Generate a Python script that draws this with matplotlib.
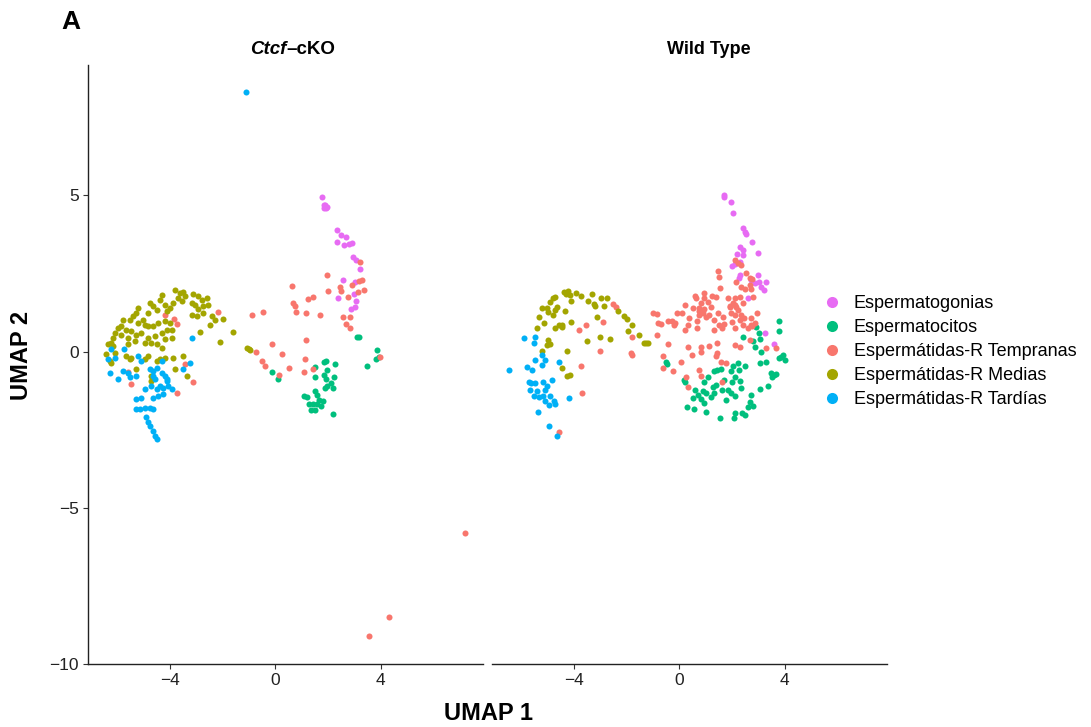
import matplotlib.pyplot as plt
from matplotlib.lines import Line2D

# fuente parecida a Helvetica
plt.rcParams["font.family"] = ["Liberation Sans", "DejaVu Sans"]

# tipos celulares y colores (paleta por defecto de ggplot)
tipos = ["Espermatogonias", "Espermatocitos", "Espermátidas-R Tempranas",
         "Espermátidas-R Medias", "Espermátidas-R Tardías"]
colores = ["#E76BF3", "#00BF7D", "#F8766D", "#A3A500", "#00B0F6"]
paneles = ["Ctcf–cKO", "Wild Type"]

# ---- Ctcf-cKO: coordenadas UMAP (UMAP 1, UMAP 2) ----
ko_gonias = [(1.76, 4.95), (1.84, 4.70), (1.90, 4.65), (1.93, 4.60), (1.84, 4.58), (1.97, 4.62),
             (1.88, 4.68), (2.35, 3.88), (2.48, 3.74), (2.67, 3.67), (2.35, 3.51), (2.61, 3.42),
             (2.80, 3.45), (2.90, 3.46), (2.95, 3.02), (3.05, 2.94), (3.22, 2.64), (2.57, 2.30),
             (3.02, 2.22), (2.99, 1.83), (2.39, 1.72), (3.05, 1.61), (3.02, 1.42), (2.86, 1.37)]
ko_citos = [(3.11, 0.46), (3.18, 0.47), (3.85, 0.04), (3.94, -0.18), (3.81, -0.23), (3.49, -0.47),
            (-0.12, -0.66), (0.10, -0.89), (1.52, -0.50), (1.84, -0.33), (1.93, -0.31), (2.25, -0.41),
            (1.97, -0.60), (1.84, -0.75), (1.49, -0.83), (2.22, -0.81), (1.91, -0.89), (2.10, -1.02),
            (1.97, -1.10), (2.18, -1.17), (1.88, -1.17), (1.52, -1.26), (1.59, -1.39), (1.08, -1.42),
            (1.21, -1.44), (1.65, -1.56), (1.80, -1.58), (1.59, -1.69), (1.27, -1.69), (1.75, -1.74),
            (1.37, -1.88), (1.52, -1.87), (2.20, -2.01), (1.42, -1.69)]
ko_tempranas = [(3.22, 2.86), (1.97, 2.46), (3.30, 2.30), (3.18, 2.25), (2.92, 2.12), (0.64, 2.09),
                (2.44, 2.06), (2.49, 1.93), (2.01, 1.95), (3.37, 1.98), (3.14, 1.91), (2.76, 1.74),
                (1.42, 1.74), (1.23, 1.69), (0.67, 1.56), (0.74, 1.45), (0.79, 1.26), (1.17, 1.24),
                (1.69, 1.17), (-0.89, 1.17), (-0.48, 1.27), (2.57, 1.10), (2.83, 1.10), (2.69, 0.87),
                (2.85, 0.74), (1.18, 0.37), (-0.12, 0.25), (-0.72, -0.02), (0.26, -0.09), (1.14, -0.25),
                (-0.51, -0.31), (-0.40, -0.47), (0.53, -0.54), (1.08, -0.65), (1.42, -0.57), (0.13, -0.75),
                (3.96, -0.18), (-4.19, 1.18), (-3.84, 1.04), (-3.75, 0.88), (-2.16, 1.27), (-5.49, -1.05),
                (-5.59, -0.65), (-3.75, -1.34), (-3.11, -0.97), (-3.43, -0.39),
                (7.20, -5.81), (4.30, -8.50), (3.54, -9.11)]
ko_medias = [(-3.81, 1.98), (-3.62, 1.87), (-3.49, 1.90), (-3.43, 1.77), (-3.69, 1.71), (-3.88, 1.56),
             (-3.56, 1.61), (-3.11, 1.85), (-2.92, 1.77), (-2.80, 1.66), (-2.61, 1.71), (-2.54, 1.50),
             (-2.73, 1.45), (-2.92, 1.36), (-3.05, 1.50), (-4.32, 1.82), (-4.38, 1.66), (-4.76, 1.56),
             (-4.64, 1.45), (-4.51, 1.34), (-4.19, 1.50), (-4.13, 1.29), (-4.00, 1.40), (-4.83, 1.24),
             (-5.21, 1.40), (-5.27, 1.24), (-5.40, 1.13), (-5.53, 1.02), (-5.78, 1.02), (-5.84, 0.81),
             (-5.65, 0.70), (-5.97, 0.76), (-6.10, 0.60), (-5.46, 0.65), (-5.21, 0.92), (-5.02, 1.02),
             (-4.96, 0.86), (-4.83, 0.81), (-4.64, 0.81), (-4.45, 0.92), (-4.19, 0.97), (-4.13, 0.70),
             (-4.32, 0.60), (-4.57, 0.49), (-4.83, 0.44), (-5.08, 0.60), (-5.27, 0.54), (-5.59, 0.44),
             (-5.84, 0.54), (-6.16, 0.44), (-6.23, 0.28), (-6.35, 0.23), (-6.16, 0.17), (-5.59, 0.23),
             (-5.34, 0.33), (-4.96, 0.28), (-4.70, 0.28), (-4.51, 0.23), (-4.32, 0.12), (-4.19, 0.39),
             (-3.94, 0.44), (-4.00, 0.92), (-3.94, 0.70), (-3.18, 1.18), (-2.99, 1.13), (-2.73, 1.24),
             (-2.42, 1.13), (-2.29, 1.02), (-1.97, 1.04), (-2.48, 0.86), (-2.86, 0.62), (-2.10, 0.30),
             (-1.62, 0.63), (-3.18, 1.56), (-5.65, -0.15), (-5.53, -0.25), (-5.46, -0.20), (-6.29, -0.31),
             (-6.23, -0.36), (-5.27, -0.57), (-4.96, -0.25), (-4.83, -0.15), (-4.51, -0.31), (-4.38, -0.25),
             (-4.19, -0.20), (-3.88, -0.20), (-3.81, -0.57), (-3.49, -0.15), (-3.37, -0.78), (-4.70, -0.94),
             (-4.70, -0.78), (-6.42, -0.09), (-6.10, -0.04), (-1.01, 0.09), (-0.95, 0.05), (-1.08, 0.12)]
ko_tardias = [(-3.18, 0.44), (-5.74, 0.07), (-6.23, 0.07), (-6.35, -0.23), (-6.10, -0.20), (-6.29, -0.68),
              (-5.97, -0.89), (-5.78, -0.63), (-5.59, -0.68), (-5.53, -0.82), (-5.27, -0.78), (-5.21, -0.15),
              (-5.08, -0.31), (-4.76, -0.57), (-4.64, -0.63), (-4.51, -0.52), (-4.64, -0.78), (-4.57, -0.89),
              (-4.32, -0.68), (-4.19, -0.78), (-4.13, -0.89), (-4.26, -1.16), (-4.07, -1.10), (-3.94, -1.21),
              (-4.38, -1.10), (-4.51, -1.21), (-4.70, -1.10), (-4.96, -1.21), (-4.45, -1.42), (-4.64, -1.48),
              (-4.26, -1.37), (-5.08, -1.50), (-5.27, -1.53), (-4.96, -1.80), (-4.76, -1.80), (-4.64, -1.85),
              (-5.14, -1.85), (-5.27, -1.85), (-4.89, -2.11), (-4.83, -2.27), (-4.76, -2.38), (-4.64, -2.54),
              (-4.57, -2.70), (-4.51, -2.79), (-3.24, -0.36), (-3.49, -0.57), (-4.32, -0.31), (-4.13, -0.94),
              (-1.10, 8.31)]

# ---- Wild Type ----
wt_gonias = [(1.68, 5.02), (1.69, 4.94), (1.97, 4.78), (2.05, 4.45), (2.41, 3.95), (2.48, 3.82),
             (2.54, 3.76), (2.74, 3.51), (2.32, 3.37), (2.41, 3.26), (2.20, 3.13), (2.41, 3.09),
             (2.98, 3.15), (2.32, 2.89), (1.99, 2.76), (2.10, 2.81), (2.31, 2.46), (2.26, 2.35),
             (2.98, 2.46), (2.73, 2.30), (3.01, 2.25), (3.30, 2.22), (3.11, 2.09), (3.21, 1.98),
             (2.60, 1.74), (2.86, 2.19), (3.24, 0.60), (3.59, 0.25)]
wt_citos = [(2.92, 0.79), (3.77, 0.99), (3.77, 0.67), (2.41, 0.49), (3.01, 0.60), (3.05, 0.40),
            (2.79, 0.36), (2.86, 0.17), (3.11, 0.01), (3.94, -0.10), (3.87, -0.17), (4.00, -0.26),
            (3.77, -0.20), (3.05, -0.36), (3.30, -0.33), (3.49, -0.66), (3.59, -0.73), (3.68, -0.70),
            (3.53, -0.79), (3.37, -1.09), (3.05, -1.19), (-0.51, -0.31), (-0.47, -0.38), (2.22, -0.36),
            (2.48, -0.44), (2.03, -0.44), (2.25, -0.58), (1.97, -0.60), (2.10, -0.79), (2.32, -0.92),
            (2.00, -0.95), (1.71, -0.90), (1.33, -0.60), (1.44, -0.58), (1.59, -0.55), (1.10, -0.81),
            (0.95, -0.95), (1.40, -1.06), (1.27, -1.13), (0.17, -0.89), (0.22, -0.97), (0.60, -1.21),
            (0.89, -1.24), (0.70, -1.37), (0.51, -1.48), (0.83, -1.51), (1.21, -1.43), (1.02, -1.32),
            (1.33, -1.32), (1.61, -1.21), (1.84, -1.21), (1.97, -1.32), (1.78, -1.53), (2.10, -1.40),
            (2.35, -1.16), (2.71, -1.37), (2.67, -1.59), (2.79, -1.73), (2.60, -1.77), (2.10, -1.96),
            (2.37, -1.96), (2.48, -2.01), (2.07, -2.12), (0.28, -1.75), (0.55, -1.83), (0.95, -1.64),
            (1.02, -1.91), (1.56, -2.12)]
wt_tempranas = [(-2.51, 1.52), (-2.40, 1.45), (-2.88, 0.96), (-3.53, 0.86), (-3.82, 0.70), (-1.78, 0.47),
                (-3.01, 0.04), (-1.84, -0.04), (-1.80, -0.09), (-3.72, -0.44), (-3.68, -1.30), (-4.55, -2.56),
                (2.13, 2.94), (2.22, 2.85), (2.35, 2.78), (1.46, 2.60), (1.50, 2.41), (2.54, 2.53),
                (2.67, 2.35), (2.76, 2.33), (2.16, 2.23), (2.35, 2.09), (2.48, 2.00), (2.67, 2.14),
                (2.73, 2.00), (1.56, 2.03), (0.93, 1.90), (0.60, 1.80), (0.64, 1.71), (1.25, 1.80),
                (1.40, 1.77), (0.95, 1.71), (1.08, 1.61), (0.83, 1.55), (0.22, 1.50), (0.51, 1.42),
                (0.76, 1.42), (1.21, 1.45), (1.84, 1.71), (2.10, 1.71), (2.29, 1.77), (2.03, 1.58),
                (1.94, 1.47), (2.16, 1.45), (2.79, 1.75), (2.41, 1.55),
                (-1.01, 1.26), (-0.85, 1.21), (-0.80, 0.92), (-0.70, 0.89), (-0.44, 1.00), (-0.29, 1.00),
                (-0.16, 0.94), (-0.21, 0.86), (-0.09, 1.26), (0.09, 1.26), (0.38, 1.08), (0.32, 0.86),
                (0.22, 0.70), (0.67, 0.76), (0.67, 1.00), (0.76, 1.18), (0.89, 1.24), (1.02, 1.13),
                (1.14, 1.18), (0.76, 1.32), (0.95, 1.36), (1.33, 1.02), (1.46, 1.23), (1.65, 1.11),
                (1.52, 0.86), (1.71, 0.89), (1.61, 0.76), (1.33, 0.70), (1.91, 1.45), (2.10, 1.50),
                (1.97, 1.23), (2.10, 1.18), (2.22, 1.34), (2.35, 1.18), (2.29, 1.02), (2.00, 0.97),
                (2.45, 1.08), (2.41, 0.86), (2.10, 0.76), (2.60, 0.76), (2.73, 1.08), (2.95, 1.23),
                (2.86, 0.92), (2.77, 0.83), (-0.85, 0.54), (-0.44, 0.26), (0.32, 0.17), (0.47, -0.10),
                (0.83, 0.15), (0.83, 0.01), (1.44, 0.28), (1.42, -0.04), (1.40, -0.12), (-0.63, -0.12),
                (0.06, -0.33), (-0.25, -0.61), (-0.63, -0.52), (0.76, -0.57), (0.83, -0.77), (0.32, -1.13),
                (0.25, -0.81), (1.59, -0.31), (1.78, -0.34), (1.61, -0.95), (1.14, 0.19), (2.29, 0.17),
                (2.10, 0.22), (2.67, 0.38), (2.73, 0.86), (3.28, 0.12), (3.68, 0.12)]
wt_medias = [(-4.38, 1.93), (-4.23, 1.96), (-4.32, 1.85), (-3.94, 1.90), (-4.15, 1.82), (-3.72, 1.80),
             (-3.33, 1.85), (-4.70, 1.77), (-4.79, 1.71), (-4.89, 1.61), (-4.13, 1.63), (-3.47, 1.64),
             (-3.24, 1.53), (-3.20, 1.47), (-2.98, 1.71), (-2.73, 1.74), (-2.86, 1.48), (-5.23, 1.42),
             (-5.02, 1.40), (-4.98, 1.27), (-4.64, 1.45), (-4.70, 1.34), (-4.34, 1.31), (-4.79, 1.17),
             (-5.33, 1.11), (-5.14, 0.92), (-5.42, 0.78), (-4.70, 0.76), (-4.57, 0.86), (-4.44, 0.86),
             (-4.44, 0.79), (-4.13, 0.96), (-3.11, 1.11), (-2.31, 1.31), (-2.10, 1.15), (-1.97, 1.04),
             (-1.80, 0.86), (-1.94, 0.68), (-1.52, 0.54), (-4.98, 0.39), (-4.89, 0.26), (-5.02, 0.23),
             (-5.21, 0.04), (-4.28, 0.04), (-3.52, 0.36), (-3.01, 0.49), (-2.63, 0.43), (-4.44, -0.52),
             (-4.28, -0.76), (-4.15, -0.73), (-1.27, 0.30), (-1.18, 0.28), (-1.33, 0.30)]
wt_tardias = [(-5.46, 0.49), (-5.88, 0.46), (-5.52, 0.28), (-5.23, -0.09), (-5.46, -0.27), (-5.08, -0.27),
              (-4.57, -0.33), (-5.78, -0.47), (-5.59, -0.59), (-5.23, -0.43), (-6.45, -0.59), (-5.71, -0.97),
              (-5.63, -0.98), (-5.46, -0.98), (-5.17, -0.97), (-4.83, -0.89), (-5.02, -1.10), (-5.65, -1.21),
              (-5.42, -1.26), (-5.08, -1.21), (-5.52, -1.42), (-5.33, -1.44), (-5.17, -1.42), (-4.89, -1.40),
              (-5.08, -1.58), (-4.95, -1.69), (-4.74, -1.58), (-4.70, -1.66), (-4.19, -1.48), (-5.36, -1.93),
              (-4.95, -2.38), (-4.64, -2.67)]

ko = [ko_gonias, ko_citos, ko_tempranas, ko_medias, ko_tardias]
wt = [wt_gonias, wt_citos, wt_tempranas, wt_medias, wt_tardias]

fig = plt.figure(figsize=(10.91, 7.27), dpi=100)
ax1 = fig.add_axes([0.0804, 0.0867, 0.3621, 0.8239])
ax2 = fig.add_axes([0.4507, 0.0867, 0.3621, 0.8239])

for ax, grupos in ((ax1, ko), (ax2, wt)):
    for pts, color in zip(grupos, colores):
        xs = [p[0] for p in pts]
        ys = [p[1] for p in pts]
        ax.scatter(xs, ys, s=19, c=color, linewidths=0)
    ax.set_xlim(-7.12, 7.87)
    ax.set_ylim(-9.97, 9.17)
    ax.set_xticks([-4, 0, 4])
    for lado in ["top", "right"]:
        ax.spines[lado].set_visible(False)
    for lado in ["left", "bottom"]:
        ax.spines[lado].set_linewidth(1.0)
        ax.spines[lado].set_color("#222222")
    ax.tick_params(length=3.5, width=0.8, color="#333333", labelsize=12.5,
                   labelcolor="#222222", pad=3)

ax1.set_yticks([-10, -5, 0, 5])
ax2.spines["left"].set_visible(False)
ax2.set_yticks([])

# titulos de los paneles
fig.text(286 / 1091, 1 - 50 / 727, "Ctcf", fontsize=13.5, fontweight="bold",
         fontstyle="italic", ha="right", va="center")
fig.text(286 / 1091, 1 - 50 / 727, "–cKO", fontsize=13.5, fontweight="bold",
         ha="left", va="center")
fig.text(709 / 1091, 1 - 50 / 727, paneles[1], fontsize=13, fontweight="bold",
         ha="center", va="center")

fig.text(71 / 1091, 1 - 22 / 727, "A", fontsize=19, fontweight="bold", ha="center", va="center")
fig.text(488 / 1091, 1 - 713 / 727, "UMAP 1", fontsize=17, fontweight="bold",
         ha="center", va="center")
fig.text(22 / 1091, 1 - 355 / 727, "UMAP 2", fontsize=17, fontweight="bold",
         ha="center", va="center", rotation=90)

# leyenda
marcas = [Line2D([], [], marker="o", linestyle="", markersize=8, markerfacecolor=c,
                 markeredgewidth=0) for c in colores]
fig.legend(marcas, tipos, loc="center left", bbox_to_anchor=(814 / 1091, 0.516),
           frameon=False, fontsize=13, handlelength=1.0, handletextpad=0.7,
           labelspacing=0.39, borderpad=0)

plt.savefig("out.png", dpi=100)
